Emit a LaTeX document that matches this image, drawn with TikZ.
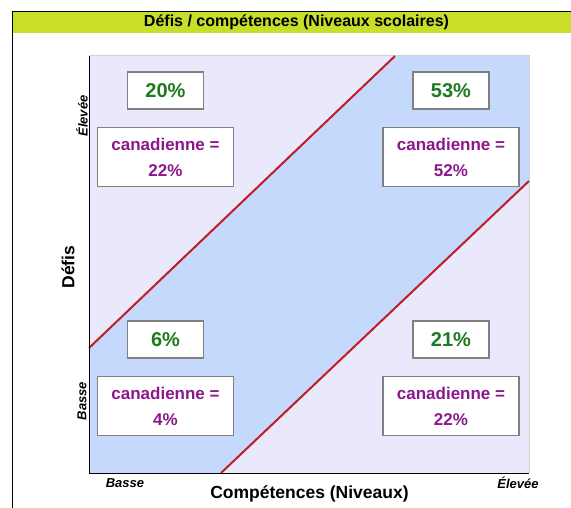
\documentclass[tikz,border=0pt]{standalone}
\usepackage{fontspec}
\setmainfont{Liberation Sans}
\usetikzlibrary{calc,positioning,fit}
\definecolor{titlebar}{RGB}{200,222,40}
\definecolor{outerbg}{RGB}{233,233,251}
\definecolor{bandbg}{RGB}{197,217,252}
\definecolor{diagred}{RGB}{196,28,36}
\definecolor{pctgreen}{RGB}{30,122,30}
\definecolor{canpurple}{RGB}{140,24,140}
\definecolor{boxgray}{RGB}{128,128,128}
\makeatletter
\tikzset{
  fitting node/.style={
    inner sep=0pt,
    fill=none,
    draw=none,
    reset transform,
    fit={(\pgf@pathminx,\pgf@pathminy) (\pgf@pathmaxx,\pgf@pathmaxy)}
  },
  reset transform/.code={\pgftransformreset}
}
\makeatother
\tikzset{
  pctbox/.style={draw=boxgray, line width=1.2pt, fill=white, text=pctgreen,
    minimum width=76pt, minimum height=37pt, inner sep=0pt,
    font=\fontsize{20}{24}\selectfont\bfseries},
  canbox/.style={draw=boxgray, line width=1.2pt, fill=white, text=canpurple,
    minimum width=136pt, minimum height=59pt, inner sep=0pt, align=center,
    font=\fontsize{17}{26}\selectfont\bfseries},
  levellabel/.style={font=\fontsize{13}{15}\selectfont\bfseries\itshape},
  axislabel/.style={font=\fontsize{17.5}{20}\selectfont\bfseries}
}

\begin{document}
\begin{tikzpicture}[x=1pt,y=-1pt]
  \useasboundingbox (0,0) rectangle (571,508);

  % title bar and frame
  \fill[titlebar] (12,12) rectangle (571,33.5) node[fitting node] (title_bar) {};
  \node (title_label) [font=\fontsize{16}{18}\selectfont\bfseries] at (296.5,22.5) {D\'efis / comp\'etences (Niveaux scolaires)};
  \draw[line width=1.5pt] (12.5,508) |- (571,11.5);

  % plot area, band between the two diagonals
  \fill[outerbg] (89,56) rectangle (529,473) node[fitting node] (plot) {};
  \fill[bandbg] (89,348) -- (395,56) -- (529,56) -- (529,181) -- (221,473) -- (89,473) -- cycle;
  \draw[gray!35, line width=1pt] (89,56) -- (529,56) -- (529,473);
  \draw[diagred, line width=2pt] (89,348) -- (395,56);
  \draw[diagred, line width=2pt] (221,473) -- (529,181);
  \draw[line width=1.3pt] (89.5,56) -- (89.5,473.5) -- (529,473.5);

  \foreach \q/\cx/\cy/\p/\c in {tl/165.5/90.5/20/22, tr/451/90.5/53/52, bl/165.5/339.5/6/4, br/451/339.5/21/22}
  {
    \node [pctbox] (pct_\q) at (\cx,\cy) {\p\%};
    \node [canbox, below=17.5pt of pct_\q] (can_\q) {canadienne =\\\c\%};
  }

  % axis texts
  \node (x_low) [levellabel] at (125,483) {Basse};
  \node (x_high) [levellabel] at (518,483) {\'Elev\'ee};
  \node (y_low) [levellabel, rotate=90] at (82,401) {Basse};
  \node (y_high) [levellabel, rotate=90] at (82,116) {\'Elev\'ee};
  \node (x_label) [axislabel] at (309.5,494) {Comp\'etences (Niveaux)};
  \node (y_label) [axislabel, rotate=90] at (68,267) {D\'efis};
\end{tikzpicture}
\end{document}
